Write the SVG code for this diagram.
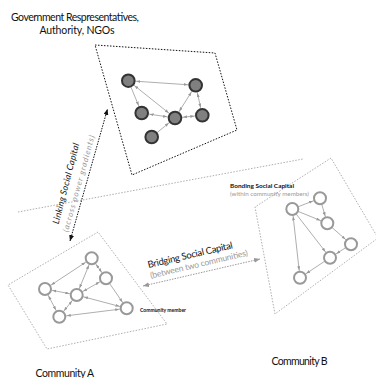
<svg xmlns="http://www.w3.org/2000/svg" width="376" height="378" viewBox="0 0 376 378">
<style>
text { font-family: "Lato", "Liberation Sans", sans-serif; fill: #111; }
.gray { fill: #999; }
.box { fill: none; stroke: #999; stroke-width: 0.8; stroke-dasharray: 1.5 1.5; }
.boxk { fill: none; stroke: #111; stroke-width: 1; stroke-dasharray: 1.5 1.5; }
.e { stroke: #999; stroke-width: 0.8; fill: none; }
.tn { fill: #808080; stroke: #333; stroke-width: 2; }
.cn { fill: #fff; stroke: #999; stroke-width: 2; }
</style>
<defs>
<marker id="at" markerUnits="userSpaceOnUse" markerWidth="4" markerHeight="3" refX="12" refY="1.5" orient="auto-start-reverse"><path d="M0,0 L4,1.5 L0,3 z" fill="#999"/></marker>
<marker id="ac" markerUnits="userSpaceOnUse" markerWidth="4" markerHeight="3" refX="11.5" refY="1.5" orient="auto-start-reverse"><path d="M0,0 L4,1.5 L0,3 z" fill="#999"/></marker>
<marker id="ak" markerUnits="userSpaceOnUse" markerWidth="6" markerHeight="5" refX="6" refY="2.5" orient="auto-start-reverse"><path d="M0,0 L6,2.5 L0,5 z" fill="#111"/></marker>
<marker id="ag" markerUnits="userSpaceOnUse" markerWidth="6" markerHeight="5" refX="6" refY="2.5" orient="auto-start-reverse"><path d="M0,0 L6,2.5 L0,5 z" fill="#999"/></marker>
</defs>

<g id="regions">
<polygon class="boxk" points="95,45 215,53 237,130 132,175"/>
<polyline class="box" points="18,212 303,159"/>
<polygon class="box" points="98,232 8,285 47,349 167,324"/>
<polygon class="box" points="331,158 255,207 275,314 378,238"/>
</g>

<g id="connectors">
<line class="e" x1="128.3" y1="80.7" x2="195.7" y2="85.3" marker-start="url(#at)" marker-end="url(#at)"/>
<line class="e" x1="128.3" y1="80.7" x2="141.7" y2="113" marker-end="url(#at)"/>
<line class="e" x1="128.3" y1="80.7" x2="175" y2="118" marker-start="url(#at)" marker-end="url(#at)"/>
<line class="e" x1="141.7" y1="113" x2="175" y2="118" marker-start="url(#at)" marker-end="url(#at)"/>
<line class="e" x1="175" y1="118" x2="195.7" y2="85.3" marker-start="url(#at)" marker-end="url(#at)"/>
<line class="e" x1="195.7" y1="85.3" x2="202.3" y2="115.3" marker-start="url(#at)" marker-end="url(#at)"/>
<line class="e" x1="202.3" y1="115.3" x2="175" y2="118" marker-start="url(#at)" marker-end="url(#at)"/>
<line class="e" x1="151.7" y1="137" x2="175" y2="118" marker-end="url(#at)"/>

<line class="e" x1="45" y1="289" x2="91.7" y2="258.3" marker-start="url(#ac)" marker-end="url(#ac)"/>
<line class="e" x1="91.7" y1="258.3" x2="106" y2="278.3" marker-start="url(#ac)" marker-end="url(#ac)"/>
<line class="e" x1="91.7" y1="258.3" x2="76.7" y2="295" marker-start="url(#ac)" marker-end="url(#ac)"/>
<line class="e" x1="45" y1="289" x2="76.7" y2="295" marker-start="url(#ac)" marker-end="url(#ac)"/>
<line class="e" x1="76.7" y1="295" x2="106" y2="278.3" marker-start="url(#ac)" marker-end="url(#ac)"/>
<line class="e" x1="76.7" y1="295" x2="126.7" y2="308.3" marker-start="url(#ac)" marker-end="url(#ac)"/>
<line class="e" x1="106" y1="278.3" x2="126.7" y2="308.3" marker-end="url(#ac)"/>
<line class="e" x1="45" y1="289" x2="59.3" y2="316.7" marker-start="url(#ac)" marker-end="url(#ac)"/>
<line class="e" x1="59.3" y1="316.7" x2="76.7" y2="295" marker-start="url(#ac)" marker-end="url(#ac)"/>
<line class="e" x1="59.3" y1="316.7" x2="126.7" y2="308.3" marker-start="url(#ac)" marker-end="url(#ac)"/>

<line class="e" x1="292.3" y1="209" x2="320" y2="198.3" marker-end="url(#ac)"/>
<line class="e" x1="320" y1="198.3" x2="327.3" y2="223.3" marker-end="url(#ac)"/>
<line class="e" x1="292.3" y1="209" x2="327.3" y2="223.3" marker-end="url(#ac)"/>
<line class="e" x1="292.3" y1="209" x2="330" y2="257.7" marker-end="url(#ac)"/>
<line class="e" x1="327.3" y1="223.3" x2="351" y2="244.3" marker-end="url(#ac)"/>
<line class="e" x1="351" y1="244.3" x2="330" y2="257.7" marker-end="url(#ac)"/>
<line class="e" x1="330" y1="257.7" x2="300" y2="277.7" marker-end="url(#ac)"/>
<line class="e" x1="300" y1="277.7" x2="292.3" y2="209" marker-start="url(#ac)" marker-end="url(#ac)"/>

<line x1="70" y1="241" x2="107.5" y2="109" stroke="#111" stroke-width="1" stroke-dasharray="1.5 1.2" marker-start="url(#ak)" marker-end="url(#ak)"/>
<line x1="143" y1="286" x2="260" y2="259" stroke="#999" stroke-width="1" stroke-dasharray="1.5 1.2" marker-start="url(#ag)" marker-end="url(#ag)"/>
</g>

<g id="gov-n1"><circle class="tn" cx="128.3" cy="80.7" r="6.3"/></g>
<g id="gov-n2"><circle class="tn" cx="195.7" cy="85.3" r="6.3"/></g>
<g id="gov-n3"><circle class="tn" cx="141.7" cy="113" r="6.3"/></g>
<g id="gov-n4"><circle class="tn" cx="175" cy="118" r="6.3"/></g>
<g id="gov-n5"><circle class="tn" cx="202.3" cy="115.3" r="6.3"/></g>
<g id="gov-n6"><circle class="tn" cx="151.7" cy="137" r="6.3"/></g>

<g id="a-n1"><circle class="cn" cx="91.7" cy="258.3" r="6"/></g>
<g id="a-n2"><circle class="cn" cx="106" cy="278.3" r="6"/></g>
<g id="a-n3"><circle class="cn" cx="45" cy="289" r="6"/></g>
<g id="a-n4"><circle class="cn" cx="76.7" cy="295" r="6"/></g>
<g id="a-n5"><circle class="cn" cx="126.7" cy="308.3" r="6"/></g>
<g id="a-n6"><circle class="cn" cx="59.3" cy="316.7" r="6"/></g>

<g id="b-n1"><circle class="cn" cx="292.3" cy="209" r="6"/></g>
<g id="b-n2"><circle class="cn" cx="320" cy="198.3" r="6"/></g>
<g id="b-n3"><circle class="cn" cx="327.3" cy="223.3" r="6"/></g>
<g id="b-n4"><circle class="cn" cx="351" cy="244.3" r="6"/></g>
<g id="b-n5"><circle class="cn" cx="330" cy="257.7" r="6"/></g>
<g id="b-n6"><circle class="cn" cx="300" cy="277.7" r="6"/></g>

<g id="labels">
<text x="75" y="21" font-size="10.5" text-anchor="middle" textLength="128">Government Respresentatives,</text>
<text x="77" y="33.5" font-size="10.5" text-anchor="middle" textLength="75">Authority, NGOs</text>
<text x="35.5" y="376.5" font-size="10.5" textLength="58.5">Community A</text>
<text x="271.5" y="365" font-size="10.5" textLength="56">Community B</text>
<text x="140" y="312" font-size="5.3" font-weight="bold" textLength="46" lengthAdjust="spacingAndGlyphs">Community member</text>
<text x="230" y="188" font-size="6.2" font-weight="bold" textLength="64" lengthAdjust="spacingAndGlyphs">Bonding Social Capital</text>
<text class="gray" x="230" y="195.5" font-size="6.2" textLength="79">(within community members)</text>
<text transform="translate(58.5,224.5) rotate(-75.5)" font-size="9" font-style="italic" textLength="83">Linking Social Capital</text>
<text class="gray" transform="translate(68,232.5) rotate(-74.5)" font-size="8" font-style="italic" textLength="100">(across power gradients)</text>
<text transform="translate(148.5,268) rotate(-13.2)" font-size="9.5" textLength="87">Bridging Social Capital</text>
<text class="gray" transform="translate(151,278.5) rotate(-13.3)" font-size="8.5" textLength="100">(between two communities)</text>
</g>
</svg>
